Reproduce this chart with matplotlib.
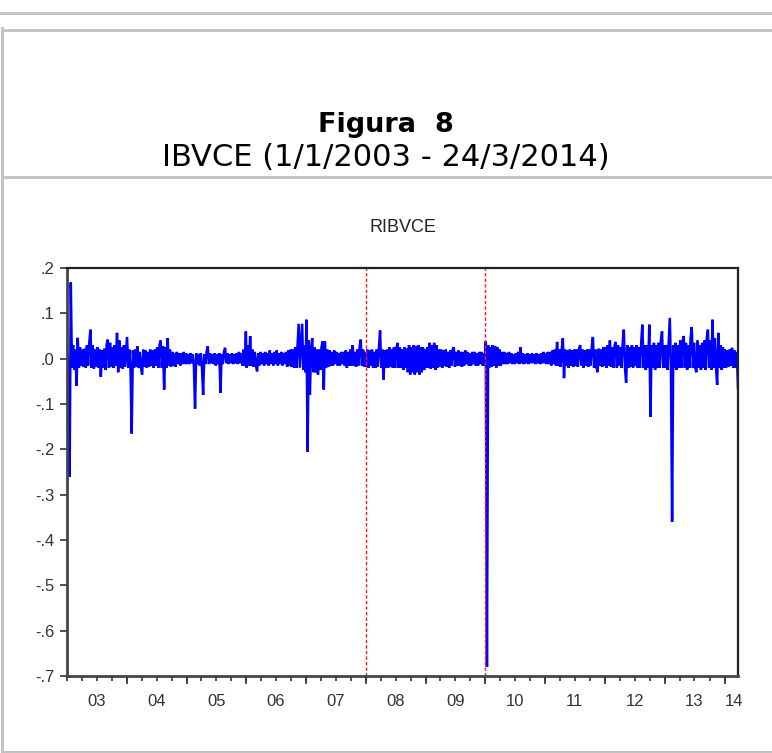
import matplotlib
matplotlib.use("Agg")
import matplotlib.pyplot as plt
import matplotlib.dates as mdates
from matplotlib.lines import Line2D
import numpy as np
import pandas as pd

# ---------------- data (weekly readings of RIBVCE) -------------
r2003 = [0.01, -0.03, -0.26, 0.168, -0.02, 0.03, -0.025, 0.02, -0.06, 0.046,
         -0.02, 0.025, -0.015, 0.02, -0.018, 0.022, -0.02, 0.03, -0.015, 0.035,
         0.064, -0.02, 0.03, -0.022, 0.02, -0.018, 0.025, -0.02, 0.02, -0.04,
         0.018, -0.02, 0.022, -0.025, 0.03, 0.042, -0.02, 0.035, -0.018, 0.025,
         -0.02, 0.03, -0.015, 0.057, -0.03, 0.04, -0.02, 0.025, -0.022, 0.03,
         -0.018, 0.02]
r2004 = [0.048, -0.02, 0.02, -0.025, -0.165, 0.018, -0.02, 0.02, -0.018, 0.027,
         -0.02, 0.015, -0.02, -0.035, 0.02, -0.018, 0.018, -0.02, 0.015, -0.018,
         0.02, -0.015, 0.018, -0.02, 0.02, -0.015, 0.025, -0.02, 0.03, 0.04,
         -0.02, 0.028, -0.068, 0.025, -0.02, 0.045, -0.015, 0.02, -0.018, 0.015,
         -0.015, 0.012, -0.018, 0.015, -0.012, 0.012, -0.015, 0.012, -0.012, 0.015,
         -0.012, 0.012]
r2005 = [-0.012, 0.01, -0.012, 0.012, -0.01, 0.01, -0.015, -0.11, 0.012, -0.012,
         0.01, -0.015, 0.012, -0.02, -0.08, 0.01, -0.012, 0.015, 0.027, -0.012,
         0.012, -0.01, 0.01, -0.012, 0.012, -0.015, 0.01, -0.012, 0.012, -0.075,
         0.01, -0.012, 0.015, 0.024, -0.01, 0.012, -0.012, 0.01, -0.01, 0.012,
         -0.012, 0.01, -0.01, 0.012, -0.012, 0.015, -0.01, 0.012, -0.015, 0.02,
         -0.015, 0.06]
r2006 = [-0.02, 0.03, -0.015, 0.05, -0.015, 0.02, -0.018, 0.015, -0.015, -0.028,
         0.012, -0.015, 0.015, -0.012, 0.012, -0.015, 0.015, -0.012, 0.012, -0.015,
         0.018, -0.012, 0.012, -0.015, 0.015, -0.012, 0.018, -0.015, 0.012, -0.012,
         0.015, -0.015, 0.012, -0.012, 0.015, -0.018, 0.018, -0.015, 0.02, -0.018,
         0.02, -0.02, 0.025, -0.02, 0.03, 0.077, -0.02, 0.03, 0.077, -0.025,
         0.03, -0.03]
r2007 = [0.086, -0.205, 0.04, -0.08, 0.02, 0.045, -0.03, 0.025, -0.03, 0.02,
         -0.035, 0.02, -0.025, 0.025, 0.038, -0.068, 0.038, -0.02, 0.02, -0.018,
         0.018, -0.015, 0.015, -0.015, 0.018, -0.012, 0.015, -0.015, 0.012, -0.015,
         0.015, -0.012, 0.015, -0.015, 0.018, -0.02, 0.015, -0.015, 0.02, -0.015,
         0.03, -0.015, 0.015, -0.018, 0.02, -0.015, 0.025, 0.042, -0.015, 0.02,
         -0.018, 0.015]
r2008 = [-0.018, 0.02, -0.02, 0.018, -0.015, 0.02, -0.02, 0.015, -0.02, 0.02,
         -0.018, 0.025, 0.062, -0.02, 0.02, -0.046, 0.018, -0.02, 0.02, -0.02,
         0.025, -0.018, 0.02, -0.02, 0.025, -0.02, 0.02, 0.035, -0.02, 0.025,
         -0.02, 0.02, -0.025, 0.025, -0.02, 0.022, -0.03, 0.03, -0.035, 0.025,
         -0.03, 0.03, -0.035, 0.028, -0.03, 0.03, -0.035, 0.025, -0.03, 0.025,
         -0.025, 0.02]
r2009 = [-0.02, 0.025, -0.02, 0.035, -0.022, 0.03, -0.02, 0.035, -0.025, 0.03,
         -0.02, 0.02, -0.018, 0.02, -0.02, 0.018, -0.015, 0.02, -0.018, 0.015,
         -0.02, 0.018, -0.015, 0.02, 0.025, -0.018, 0.015, -0.015, 0.018, -0.015,
         0.015, -0.018, 0.015, -0.015, 0.018, -0.012, 0.015, -0.015, 0.012, -0.015,
         0.015, -0.012, 0.015, -0.015, 0.012, -0.015, 0.015, -0.012, 0.015, -0.015,
         0.012, -0.015]
r2010 = [0.038, -0.68, 0.03, -0.02, 0.025, -0.018, 0.03, -0.015, 0.028, -0.02,
         0.025, -0.015, 0.02, -0.015, 0.015, -0.012, 0.015, -0.012, 0.012, -0.012,
         0.015, -0.01, 0.012, -0.012, 0.01, -0.012, 0.012, -0.01, 0.015, -0.012,
         0.025, -0.01, 0.012, -0.012, 0.01, -0.01, 0.012, -0.012, 0.01, -0.01,
         0.012, -0.01, 0.01, -0.012, 0.012, -0.01, 0.01, -0.012, 0.012, -0.01,
         0.015, -0.01]
r2011 = [0.012, -0.012, 0.015, -0.012, 0.015, -0.015, 0.018, -0.012, 0.02, -0.015,
         0.037, -0.015, 0.02, -0.018, 0.02, 0.045, -0.043, 0.02, -0.015, 0.018,
         -0.02, 0.02, -0.015, 0.018, -0.018, 0.02, -0.015, 0.02, -0.018, 0.022,
         0.03, -0.015, 0.02, -0.02, 0.018, -0.015, 0.02, -0.018, 0.02, -0.015,
         0.025, 0.048, -0.02, 0.02, -0.018, -0.03, 0.022, -0.015, 0.02, -0.018,
         0.025, -0.015]
r2012 = [0.025, -0.02, 0.03, -0.015, 0.04, -0.018, 0.025, -0.02, 0.028, 0.037,
         -0.02, 0.03, -0.015, 0.025, -0.02, 0.035, 0.064, -0.02, -0.053, 0.03,
         -0.02, 0.025, -0.018, 0.03, -0.02, 0.025, -0.015, 0.03, -0.02, 0.025,
         -0.02, 0.035, 0.075, -0.02, 0.03, -0.025, 0.03, -0.02, 0.075, -0.128,
         0.03, -0.02, 0.035, -0.025, 0.03, -0.02, 0.035, -0.02, 0.04, 0.06,
         -0.02, 0.03]
r2013 = [-0.02, 0.03, -0.025, 0.035, 0.09, -0.02, -0.36, 0.03, -0.02, 0.035,
         -0.025, 0.03, -0.02, 0.04, -0.02, 0.035, 0.05, -0.02, 0.035, -0.025,
         0.03, -0.02, 0.045, 0.07, -0.02, 0.035, -0.02, -0.03, 0.04, -0.02,
         0.03, -0.025, 0.035, -0.02, 0.04, -0.025, 0.045, 0.064, -0.02, 0.04,
         -0.025, 0.086, -0.02, 0.045, -0.02, -0.058, 0.057, -0.02, 0.03, -0.025,
         0.025, -0.02]
r2014 = [0.02, -0.02, 0.018, -0.018, 0.02, -0.015, 0.024, -0.02, 0.018, -0.02,
         0.015, -0.065]

years = [2003, 2004, 2005, 2006, 2007, 2008, 2009, 2010, 2011, 2012, 2013, 2014]
series = [r2003, r2004, r2005, r2006, r2007, r2008, r2009, r2010, r2011, r2012,
          r2013, r2014]
break_dates = ["2008-01-01", "2010-01-01"]
yticks = [0.2, 0.1, 0.0, -0.1, -0.2, -0.3, -0.4, -0.5, -0.6, -0.7]
year_labels = ["03", "04", "05", "06", "07", "08", "09", "10", "11", "12", "13", "14"]
start, end = "2003-01-01", "2014-03-24"

# build the dated series
dates, vals = [], []
for y, v in zip(years, series):
    last = f"{y}-12-29" if y < 2014 else "2014-03-24"
    d = pd.date_range(f"{y}-01-03", last, periods=len(v))
    dates.extend(d)
    vals.extend(v)
s = pd.Series(vals, index=pd.DatetimeIndex(dates))

# ---------------- figure ----------------
W, H = 772, 753
fig = plt.figure(figsize=(W / 100, H / 100), dpi=100)

def px2fx(x):
    return x / W

def px2fy(y):
    return 1 - y / H

grey = "#c3c3c3"
lw_frame = 3 * 72 / 100
# page decorations
fig.add_artist(Line2D([0, 1], [px2fy(13), px2fy(13)], color=grey, lw=lw_frame,
                      transform=fig.transFigure))
fig.add_artist(Line2D([px2fx(2), 1], [px2fy(29.5), px2fy(29.5)], color=grey, lw=lw_frame,
                      transform=fig.transFigure))
fig.add_artist(Line2D([px2fx(2), 1], [px2fy(177), px2fy(177)], color=grey, lw=lw_frame,
                      transform=fig.transFigure))
fig.add_artist(Line2D([px2fx(2), 1], [px2fy(751.5), px2fy(751.5)], color=grey, lw=lw_frame,
                      transform=fig.transFigure))
fig.add_artist(Line2D([px2fx(2), px2fx(2)], [px2fy(28), px2fy(753)], color=grey, lw=lw_frame,
                      transform=fig.transFigure))

fig.text(0.5, px2fy(132), "Figura  8", ha="center", va="baseline",
         fontsize=19.5, fontweight="bold", family="DejaVu Sans", color="black")
fig.text(0.5, px2fy(166), "IBVCE (1/1/2003 - 24/3/2014)", ha="center", va="baseline",
         fontsize=22, family="DejaVu Sans", color="black")

L, R, T, B = 67, 738, 268, 676
ax = fig.add_axes([px2fx(L), px2fy(B), (R - L) / W, (B - T) / H])

ax.plot(s.index, s.values, color="#0000ff", lw=1.8, solid_joinstyle="miter")
for bd in break_dates:
    ax.axvline(pd.Timestamp(bd), color="#ff2020", lw=1.0, ls=(0, (2.5, 1.5)))

ax.set_xlim(pd.Timestamp(start), pd.Timestamp(end))
ax.set_ylim(-0.7, 0.2)

tick_font = dict(family="Liberation Sans", size=12)
ax.set_yticks(yticks)
ax.set_yticklabels([("-" if v < -1e-9 else "") + f"{abs(v):.1f}".lstrip("0") for v in yticks],
                   fontdict=tick_font, color="#333333")
ax.tick_params(axis="y", direction="out", length=5, width=1.2, pad=4, colors="#333333",
               labelcolor="#333333", right=False)

# year labels at mid-year, quarterly minor ticks, long ticks at year starts
label_pos = [pd.Timestamp(f"{y}-07-01") for y in years[:-1]] + [pd.Timestamp("2014-02-28")]
ax.set_xticks(label_pos)
ax.set_xticklabels(year_labels, fontdict=tick_font, color="#333333")
ax.tick_params(axis="x", which="major", length=0, pad=13)
ax.xaxis.remove_overlapping_locs = False
ax.xaxis.set_minor_locator(mdates.MonthLocator(bymonth=[1, 4, 7, 10]))
ax.tick_params(axis="x", which="minor", direction="out", length=3.5, width=1.2,
               colors="#333333", top=False)
sec = ax.secondary_xaxis("bottom")
sec.set_xticks([pd.Timestamp(f"{y}-01-01") for y in years[1:]])
sec.set_xticklabels([])
sec.tick_params(direction="out", length=6, width=1.2, colors="#333333")
sec.spines["bottom"].set_visible(False)

for sp in ["left", "bottom"]:
    ax.spines[sp].set_linewidth(2.0)
    ax.spines[sp].set_color("#444444")
for sp in ["top", "right"]:
    ax.spines[sp].set_linewidth(1.6)
    ax.spines[sp].set_color("#222222")

fig.text((L + R) / 2 / W, px2fy(227), "RIBVCE", ha="center", va="center",
         fontsize=13, family="Liberation Sans", color="#222222")

fig.savefig("out.png", dpi=100)
